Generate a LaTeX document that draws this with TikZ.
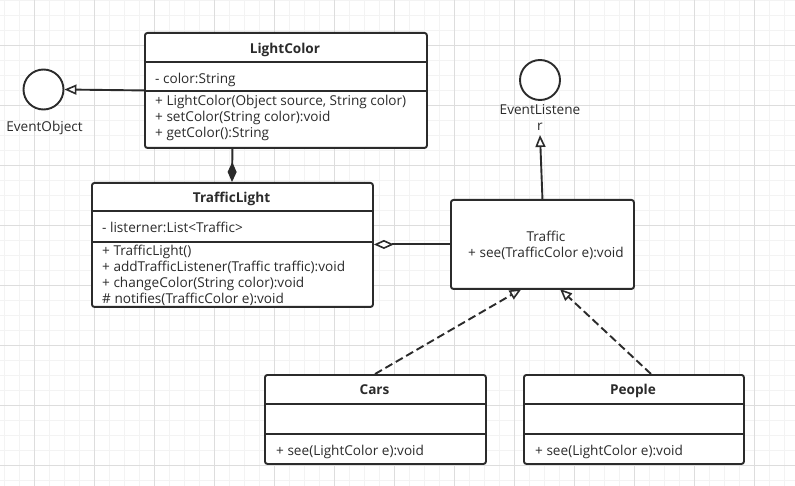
\documentclass[tikz,border=0pt]{standalone}
\usepackage{fontspec}
\setmainfont{Open Sans}
\usetikzlibrary{arrows.meta}
\definecolor{ink}{HTML}{2B2B2B}
\definecolor{gridminor}{HTML}{F3F3F3}
\definecolor{gridmajor}{HTML}{DDDDDD}
\tikzset{
  umlbox/.style={draw=ink, line width=1.9pt, rounded corners=2.5pt, fill=white, inner sep=0pt, anchor=north west},
  sep/.style={draw=ink, line width=1.9pt},
  txt/.style={inner sep=0pt, text=ink, font=\fontsize{13.6}{16}\selectfont},
  lefttxt/.style={txt, anchor=base west},
  ttl/.style={txt, anchor=base, font=\fontsize{13.6}{16}\selectfont\bfseries},
  iface/.style={draw=ink, line width=1.9pt, circle, minimum size=40pt, inner sep=0pt, fill=white},
  conn/.style={draw=ink, line width=1.9pt},
  realize/.style={conn, -{Triangle[open, length=12pt, width=10pt, line width=1.6pt]}},
  depend/.style={conn, dash pattern=on 8pt off 4pt, -{Triangle[open, length=12pt, width=10pt, line width=1.6pt]}},
}
\begin{document}
\begin{tikzpicture}[x=1pt, y=-1pt]
\useasboundingbox (0,0) rectangle (795,486);
\fill[white] (0,0) rectangle (795,486);
% grid
\foreach \gx in {4,19,...,795} \draw[gridminor, line width=0.7pt] (\gx,0) -- (\gx,486);
\foreach \gy in {0,15,...,486} \draw[gridminor, line width=0.7pt] (0,\gy) -- (795,\gy);
\foreach \gx in {34,94,...,795} \draw[gridmajor, line width=0.8pt] (\gx,0) -- (\gx,486);
\foreach \gy in {45,105,...,486} \draw[gridmajor, line width=0.8pt] (0,\gy) -- (795,\gy);

% LightColor
\node[umlbox, minimum width=282pt, minimum height=115pt] (lc) at (144,32) {};
\draw[sep] (144,62) -- (426,62);
\draw[sep] (144,91) -- (426,91);
\node[ttl] (lct) at (285,53.5) {LightColor};
\node[lefttxt] (lca) at (155,83.5) {- color:String};
\node[lefttxt] (lcm1) at (155,105.5) {+ LightColor(Object source, String color)};
\node[lefttxt] (lcm2) at (155,121.5) {+ setColor(String color):void};
\node[lefttxt] (lcm3) at (155,137.5) {+ getColor():String};

% EventObject
\node[iface] (eo) at (43.5,89.5) {};
\node[txt, anchor=base] (eol) at (44.5,131.5) {EventObject};

% TrafficLight
\node[umlbox, minimum width=281pt, minimum height=124pt] (tl) at (91,182) {};
\draw[sep] (91,211) -- (372,211);
\draw[sep] (91,242) -- (372,242);
\node[ttl] (tlt) at (231.5,202.5) {TrafficLight};
\node[lefttxt] (tla) at (102,232.5) {- listerner:List<Traffic>};
\node[lefttxt] (tlm1) at (102,255.5) {+ TrafficLight()};
\node[lefttxt] (tlm2) at (102,271.5) {+ addTrafficListener(Traffic traffic):void};
\node[lefttxt] (tlm3) at (102,287.5) {+ changeColor(String color):void};
\node[lefttxt] (tlm4) at (102,303.5) {\# notifies(TrafficColor e):void};

% Traffic
\node[umlbox, minimum width=183pt, minimum height=89pt] (tr) at (450,199) {};
\node[txt, anchor=base] (trt) at (546,241.5) {Traffic};
\node[txt, anchor=base] (trm) at (546,257.5) {+ see(TrafficColor e):void};

% EventListener
\node[iface] (el) at (540,80) {};
\node[txt, anchor=base] (ell1) at (540,114.5) {EventListene};
\node[txt, anchor=base] (ell2) at (540,130.5) {r};
\coordinate (eltip) at (540,135);

% Cars
\node[umlbox, minimum width=221pt, minimum height=89pt] (cars) at (264,374) {};
\draw[sep] (264,404) -- (485,404);
\draw[sep] (264,434) -- (485,434);
\node[ttl] (carst) at (374.5,394.5) {Cars};
\node[lefttxt] (carsm) at (276,455) {+ see(LightColor e):void};

% People
\node[umlbox, minimum width=220pt, minimum height=89pt] (pp) at (523,374) {};
\draw[sep] (523,404) -- (743,404);
\draw[sep] (523,434) -- (743,434);
\node[ttl] (ppt) at (633,394.5) {People};
\node[lefttxt] (ppm) at (535,455) {+ see(LightColor e):void};

% connectors
\draw[realize] (lc.west) -- (eo.east);
\draw[conn, -{Diamond[length=20pt, width=9pt]}] (tl.north |- lc.south) -- (tl.north -| 232,0);
\draw[conn, -{Diamond[open, length=20pt, width=9pt, line width=1.6pt]}] (tr.west) -- (tr.west -| tl.east);
\draw[realize] (tr.north) -- (eltip);
\coordinate (carsfrom) at (375,374);
\coordinate (carsto) at (521.5,289);
\coordinate (ppfrom) at (651,374);
\coordinate (ppto) at (560,289);
\draw[depend] (carsfrom) -- (carsto);
\draw[depend] (ppfrom) -- (ppto);
\end{tikzpicture}
\end{document}
